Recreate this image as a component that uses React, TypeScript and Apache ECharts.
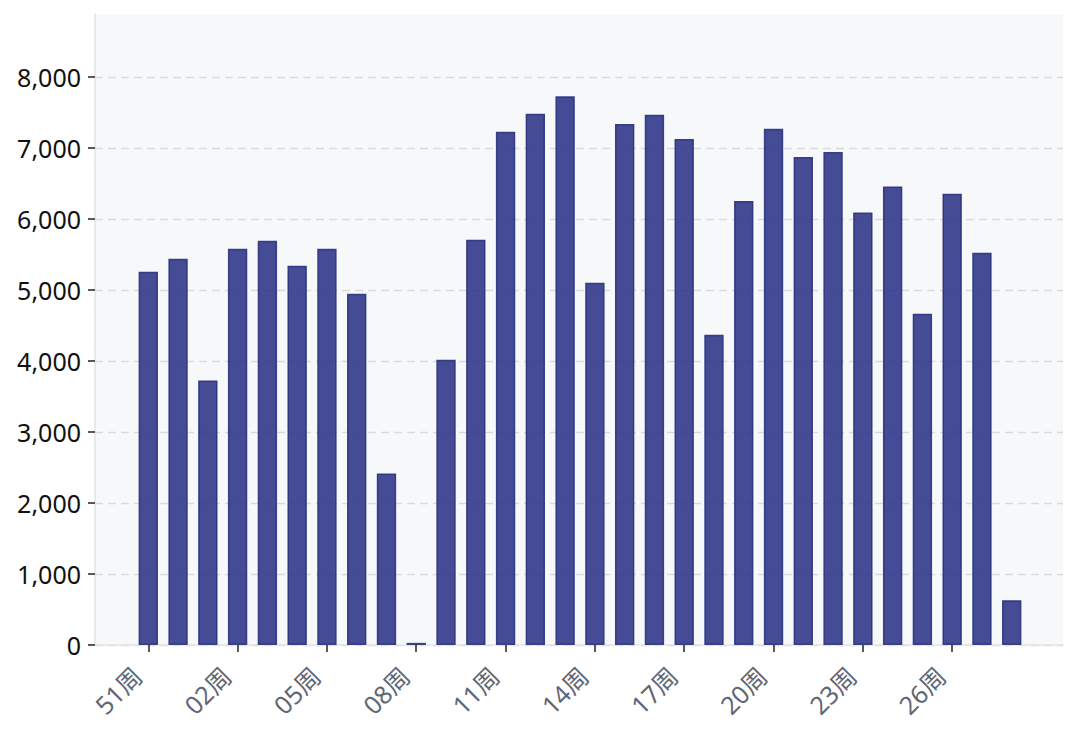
import React, { useEffect, useRef } from "react";
import * as echarts from "echarts";

const weeks: string[] = [
  "51周", "52周", "01周", "02周", "03周", "04周", "05周", "06周", "07周", "08周",
  "09周", "10周", "11周", "12周", "13周", "14周", "15周", "16周", "17周", "18周",
  "19周", "20周", "21周", "22周", "23周", "24周", "25周", "26周", "27周", "28周",
];

const values: number[] = [
  5260, 5442, 3725, 5582, 5695, 5343, 5582, 4950, 2416, 30,
  4020, 5710, 7230, 7484, 7730, 5104, 7340, 7472, 7130, 4370,
  6255, 7272, 6876, 6947, 6094, 6460, 4668, 6356, 5528, 632,
];

const yMax = 8890;
const yLabelMax = 8000;
const yInterval = 1000;

const FONT = '"Noto Sans", "Noto Sans CJK SC", sans-serif';

// plot area geometry
const PLOT_TOP = 14;
const PLOT_BOTTOM = 89;
const PLOT_LEFT = 95;
const PLOT_RIGHT = 17;
const plotHeight = 734 - PLOT_TOP - PLOT_BOTTOM;
const labelGridTop = PLOT_TOP + plotHeight * (1 - yLabelMax / yMax);

export default function App() {
  const ref = useRef<HTMLDivElement>(null);

  useEffect(() => {
    document.body.style.margin = "0";
    if (!ref.current) return;
    const chart = echarts.init(ref.current, undefined, { renderer: "svg" });
    chart.setOption({
      animation: false,
      backgroundColor: "#ffffff",
      grid: [
        {
          left: PLOT_LEFT,
          right: PLOT_RIGHT,
          top: PLOT_TOP,
          bottom: PLOT_BOTTOM,
          show: true,
          backgroundColor: "#f7f8fa",
          borderWidth: 0,
        },
        {
          left: PLOT_LEFT,
          right: PLOT_RIGHT,
          top: labelGridTop,
          bottom: PLOT_BOTTOM,
        },
        {
          left: 133.4,
          right: 53.4,
          top: PLOT_TOP,
          bottom: PLOT_BOTTOM,
        },
      ],
      xAxis: [
        {
          type: "value",
          gridIndex: 0,
          min: 0,
          max: 1,
          axisLine: { show: true, lineStyle: { color: "#e2e4e8", width: 1.5 } },
          axisTick: { show: false },
          axisLabel: { show: false },
          splitLine: { show: false },
        },
        {
          type: "value",
          gridIndex: 1,
          min: 0,
          max: 1,
          show: false,
          splitLine: { show: false },
        },
        {
          type: "category",
          gridIndex: 2,
          data: weeks,
          boundaryGap: true,
          axisLine: { show: false },
          axisTick: {
            show: true,
            alignWithLabel: true,
            interval: 2,
            length: 7,
            lineStyle: { color: "#222222", width: 1.5 },
          },
          axisLabel: {
            interval: 2,
            rotate: 45,
            margin: 15,
            padding: [0, 16, 0, 0],
            fontSize: 25,
            fontFamily: FONT,
            color: "#5f6674",
          },
          splitLine: { show: false },
        },
      ],
      yAxis: [
        {
          type: "value",
          gridIndex: 0,
          min: 0,
          max: yMax,
          axisLine: { show: true, lineStyle: { color: "#e2e4e8", width: 1.5 } },
          axisTick: { show: false },
          axisLabel: { show: false },
          splitLine: { show: false },
        },
        {
          type: "value",
          gridIndex: 1,
          min: 0,
          max: yLabelMax,
          interval: yInterval,
          axisLine: { show: false },
          axisTick: { show: true, length: 7, lineStyle: { color: "#222222", width: 1.5 } },
          axisLabel: {
            margin: 14,
            fontSize: 25,
            fontFamily: FONT,
            color: "#111111",
            formatter: (v: number) => v.toLocaleString("en-US"),
          },
          splitLine: {
            show: true,
            lineStyle: { color: "#d9dbe0", type: [8, 5], width: 1.3 },
          },
        },
        {
          type: "value",
          gridIndex: 2,
          min: 0,
          max: yMax,
          show: false,
          splitLine: { show: false },
        },
      ],
      series: [
        {
          type: "bar",
          xAxisIndex: 2,
          yAxisIndex: 2,
          data: values,
          barCategoryGap: "35%",
          itemStyle: {
            color: "#31398a",
            opacity: 0.9,
            borderColor: "#2a317e",
            borderWidth: 1.5,
          },
        },
      ],
    });
    return () => chart.dispose();
  }, []);

  return <div ref={ref} style={{ width: 1080, height: 734 }} />;
}
